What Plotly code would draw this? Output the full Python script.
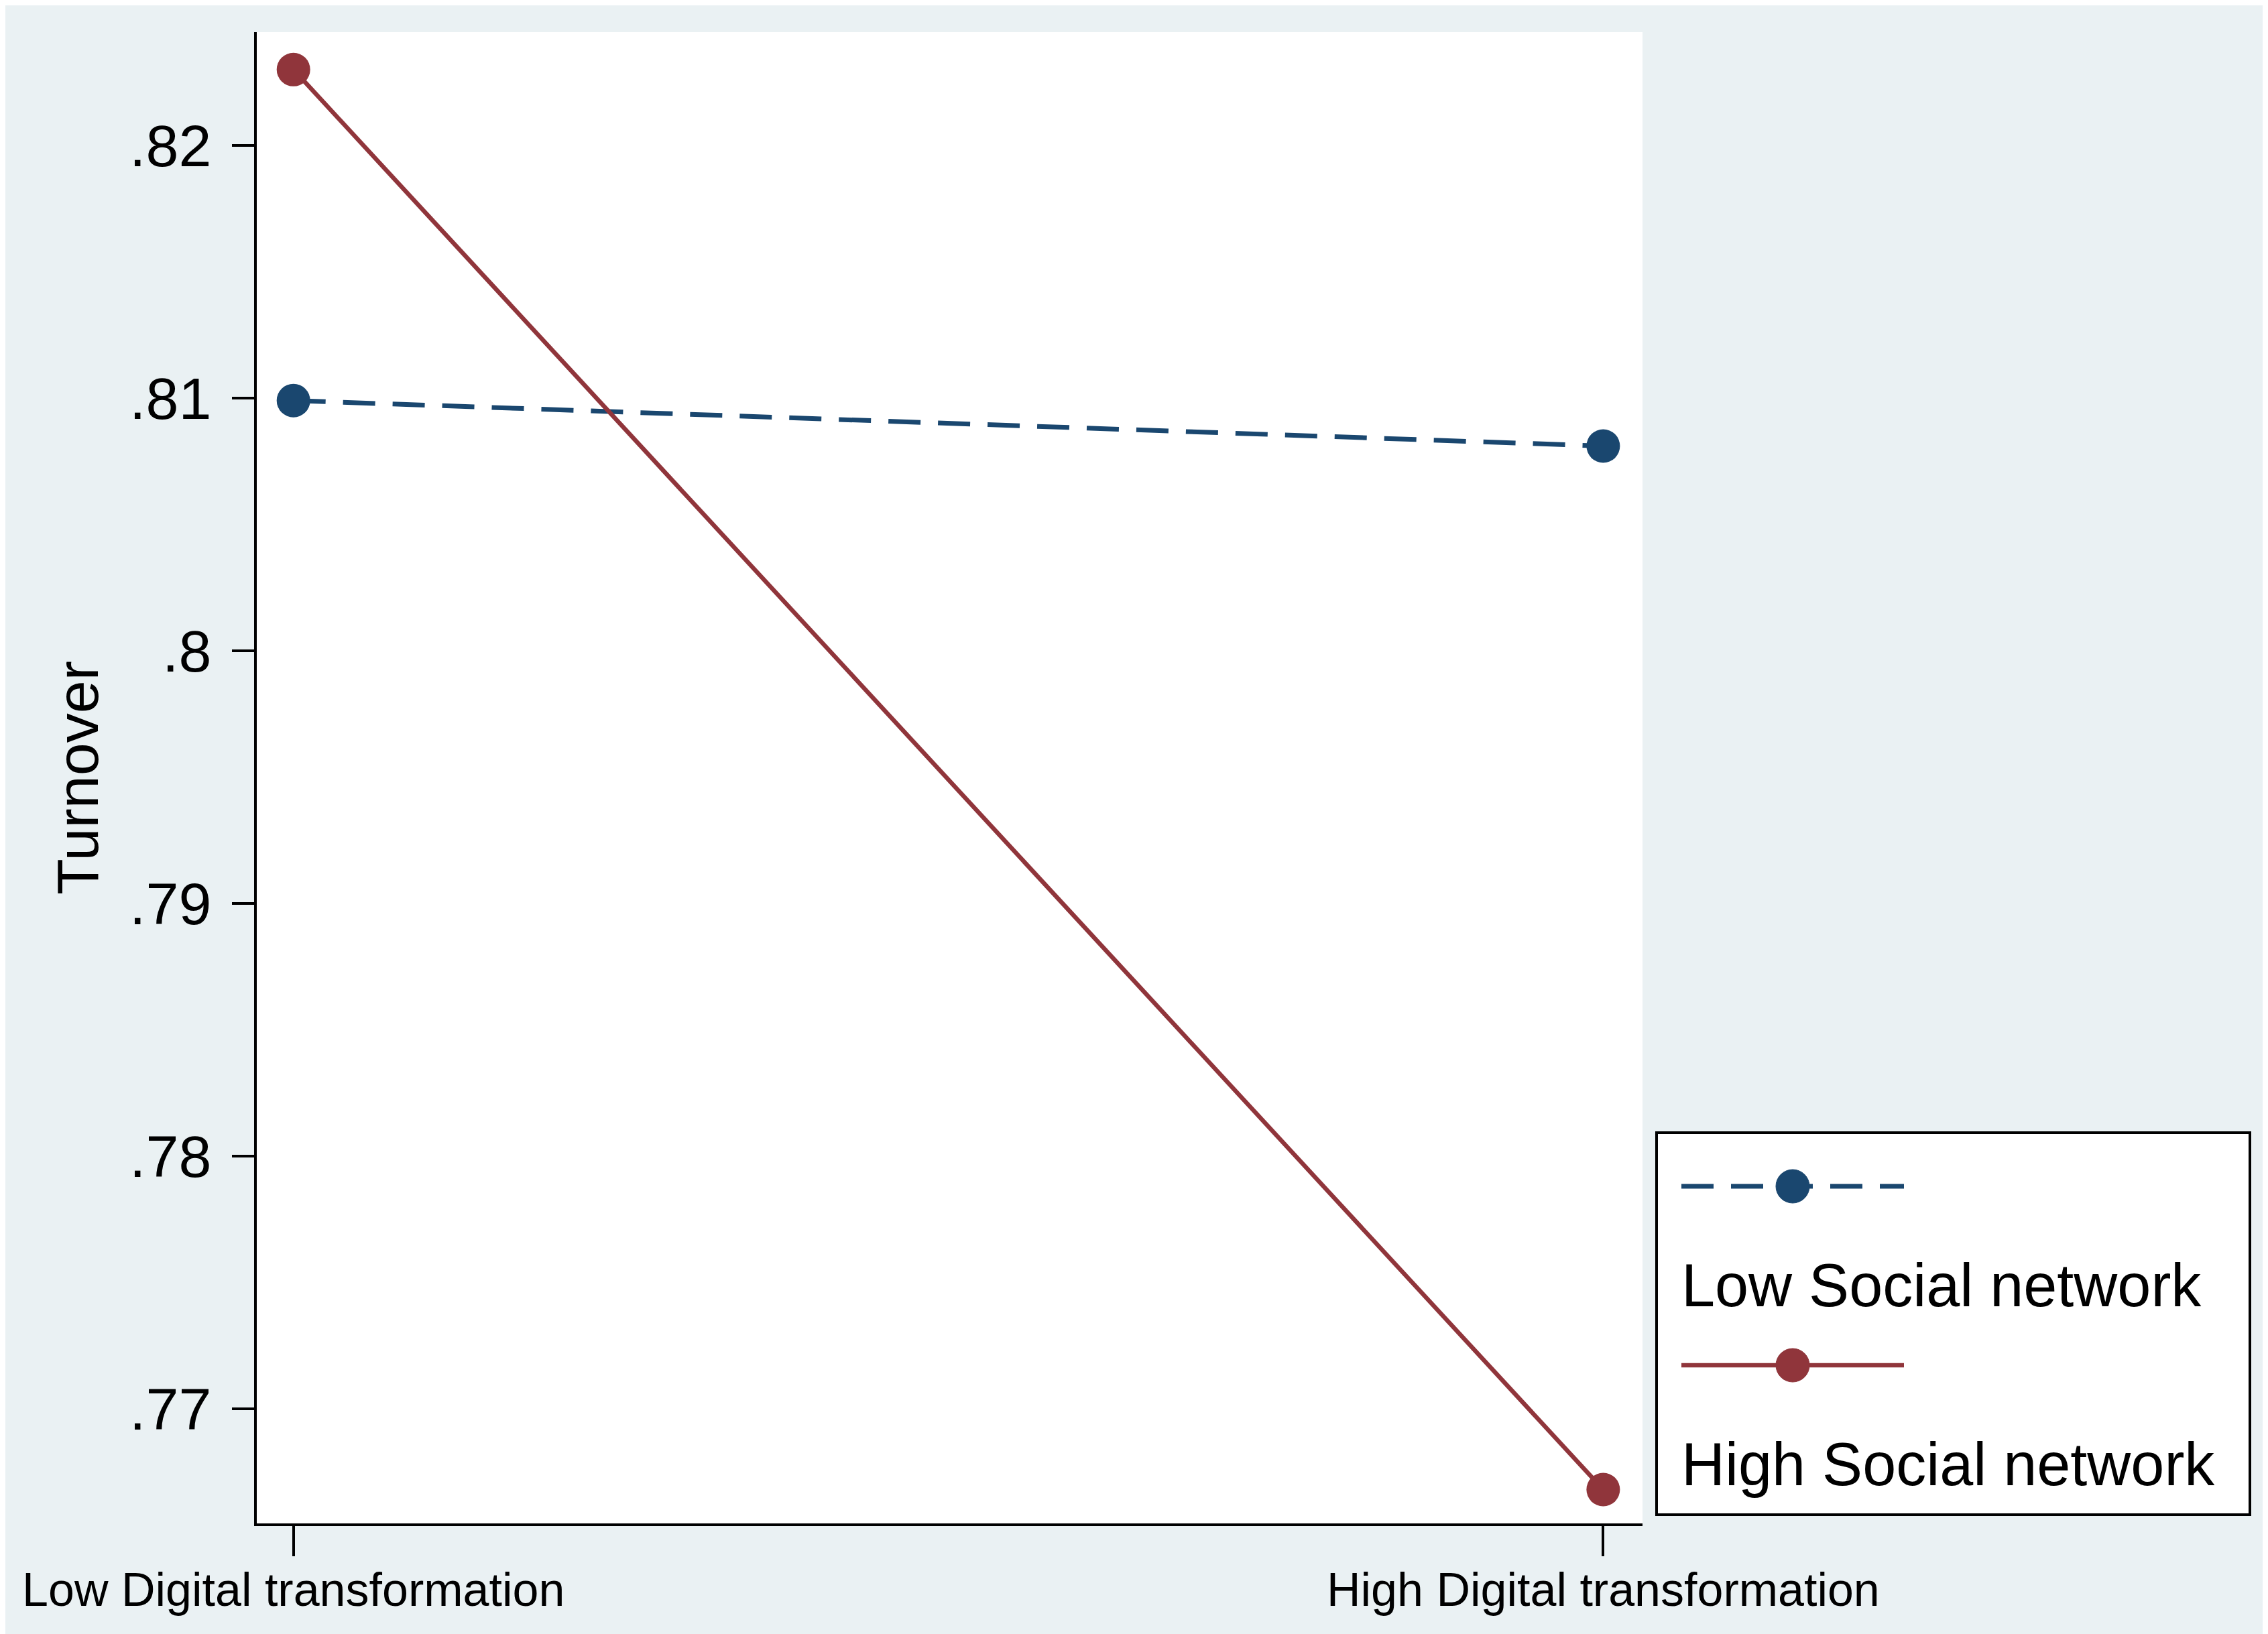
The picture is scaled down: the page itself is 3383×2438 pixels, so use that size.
import plotly.graph_objects as go

# categories on the x axis and the two predicted series
x_labels = ["Low Digital transformation", "High Digital transformation"]
low_social = [0.8099, 0.8081]
high_social = [0.8230, 0.7668]
series_names = ["Low Social network", "High Social network"]

y_ticks = [0.77, 0.78, 0.79, 0.80, 0.81, 0.82]
y_ticktext = [".77", ".78", ".79", ".8", ".81", ".82"]

NAVY = "#1A476F"
MAROON = "#90353B"
BG = "#EAF1F3"
FONT = "Arial, Liberation Sans, sans-serif"

W, H = 3383, 2438
M_L, M_R, M_T, M_B = 375, 941, 40, 173
PW, PH = W - M_L - M_R, H - M_T - M_B
OFF = 7  # small nudge of the legend block up/left


def px_x(p):
    return (p - OFF - M_L) / PW


def px_y(p):
    return (H - M_B - (p - OFF)) / PH


xs = list(range(len(x_labels)))

fig = go.Figure()
fig.add_trace(go.Scatter(
    x=xs, y=low_social, name=series_names[0], mode="lines+markers",
    line=dict(color=NAVY, width=7, dash="48px,26px"),
    marker=dict(color=NAVY, size=50),
    cliponaxis=False,
))
fig.add_trace(go.Scatter(
    x=xs, y=high_social, name=series_names[1], mode="lines+markers",
    line=dict(color=MAROON, width=6.5),
    marker=dict(color=MAROON, size=50),
    cliponaxis=False,
))

# Stata-style legend box: key on one row, label underneath
shapes = [
    dict(type="rect", xref="paper", yref="paper",
         x0=px_x(2470), x1=px_x(3355), y0=px_y(2259), y1=px_y(1689),
         line=dict(color="black", width=4), fillcolor="white", layer="above"),
]
annotations = []
keys = [(NAVY, "48px,26px", 7, 1769, 1917), (MAROON, "solid", 6.5, 2036, 2184)]
for name, (col, dash, lw, ky, ty) in zip(series_names, keys):
    shapes.append(dict(type="line", xref="paper", yref="paper",
                       x0=px_x(2507), x1=px_x(2839), y0=px_y(ky), y1=px_y(ky),
                       line=dict(color=col, width=lw, dash=dash), layer="above"))
    shapes.append(dict(type="circle", xref="paper", yref="paper",
                       xsizemode="pixel", ysizemode="pixel",
                       xanchor=px_x(2673), yanchor=px_y(ky),
                       x0=-25, x1=25, y0=-25, y1=25,
                       fillcolor=col, line=dict(color=col, width=1), layer="above"))
    annotations.append(dict(xref="paper", yref="paper", x=px_x(2505), y=px_y(ty),
                            text=name, showarrow=False, xanchor="left", yanchor="middle",
                            font=dict(family=FONT, size=90, color="black")))

fig.update_layout(
    width=W, height=H,
    margin=dict(l=M_L, r=M_R, t=M_T, b=M_B, autoexpand=False),
    paper_bgcolor=BG, plot_bgcolor="white",
    showlegend=False,
    shapes=shapes, annotations=annotations,
    font=dict(family=FONT, color="black"),
)
fig.update_xaxes(
    range=[-0.028, 1.03], tickvals=xs, ticktext=x_labels,
    showgrid=False, zeroline=False, showline=True, linecolor="black", linewidth=4,
    ticks="outside", ticklen=45, tickwidth=4, tickcolor="black",
    tickfont=dict(size=70, color="black"), ticklabelstandoff=-10,
)
fig.update_yaxes(
    range=[0.76546, 0.82448], tickvals=y_ticks, ticktext=y_ticktext,
    showgrid=False, zeroline=False, showline=True, linecolor="black", linewidth=4,
    ticks="outside", ticklen=33, tickwidth=4, tickcolor="black",
    tickfont=dict(size=88, color="black"), ticklabelstandoff=13,
    title=dict(text="Turnover", font=dict(size=88, color="black"), standoff=18),
)

fig.write_html("out.html")
